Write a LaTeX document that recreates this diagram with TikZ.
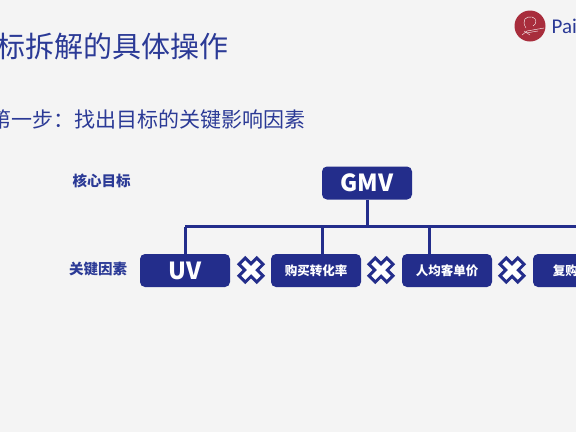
\documentclass[tikz,border=0pt]{standalone}
\usepackage{fontspec}
\setmainfont{Noto Sans CJK SC}
\newfontfamily\brandfont{Carlito}
\usepackage{xcolor}
\usepackage{tikz}
\definecolor{navyblue}{HTML}{232D8B}
\definecolor{titleblue}{HTML}{2B3A96}
\definecolor{logored}{HTML}{A82D3C}
\definecolor{pagegray}{HTML}{F4F4F4}
\tikzset{
  goalbox/.style={draw=none, fill=navyblue, rounded corners=5pt, minimum width=90pt, minimum height=33pt, inner sep=0pt, text=white, font=\fontsize{23.5}{28}\selectfont\bfseries},
  factorbox/.style={goalbox, font=\fontsize{12.5}{15}\selectfont\bfseries},
  rowlabel/.style={text=titleblue, font=\fontsize{14.5}{17}\selectfont\bfseries},
  branch/.style={draw=navyblue, line width=3pt},
  timesmark/.style={draw=navyblue, fill=white, line width=3pt, line join=miter}
}
\begin{document}
\begin{tikzpicture}[x=1pt,y=-1pt]
\clip (0,0) rectangle (576,432);
\fill[pagegray] (0,0) rectangle (576,432);
% heading
\node[anchor=east, text=titleblue, inner sep=0pt, font=\fontsize{29}{34}\selectfont] (title) at (229,46) {指标拆解的具体操作};
\node[anchor=east, text=titleblue, inner sep=0pt, font=\fontsize{21}{25}\selectfont] (subtitle) at (305.5,120) {第一步：找出目标的关键影响因素};
% logo
\node[circle, fill=logored, minimum size=31pt, inner sep=0pt] (logo) at (530,26) {};
\draw[white, line width=0.4pt] (526,28) .. controls (521,20) and (526,16) .. (532,17) .. controls (537,18) and (537,24) .. (533,26);
\draw[white, line width=0.4pt] (522,35) -- (527,31) -- (544,28) (524,31) -- (530,35) (526,33) -- (538,31);
\node[anchor=west, text=titleblue, inner sep=0pt, font=\brandfont\fontsize{21}{25}\selectfont] (brand) at (551.5,26) {Pai};
% rows
\node[rowlabel] (goallabel) at (101.5,181) {核心目标};
\node[rowlabel] (factorlabel) at (98,269) {关键因素};
\node[goalbox] (gmv) at (367,183) {GMV};
\node[goalbox] (uv) at (185,270.5) {UV};
\node[factorbox] (buy) at (316,270.5) {购买转化率};
\node[factorbox] (price) at (447,270.5) {人均客单价};
\node[factorbox] (repeat) at (578,270.5) {复购率\kern12.6pt};
% connectors
\draw[branch] (gmv.south) -- ++(0,27) coordinate (bus);
\draw[branch] (bus -| uv.north) -- (bus -| repeat.east);
\draw[branch] (bus -| uv.north) -- (uv.north);
\draw[branch] ([xshift=6pt]buy.north) -- ([xshift=6pt]buy.north |- bus);
\draw[branch] ([xshift=-18pt]price.north) -- ([xshift=-18pt]price.north |- bus);
% multiply signs
\foreach \cx in {251,381,512}{
  \draw[timesmark, shift={(\cx,270)}, rotate=45] (-4.5,-12.5) -- (4.5,-12.5) -- (4.5,-4.5) -- (12.5,-4.5) -- (12.5,4.5) -- (4.5,4.5) -- (4.5,12.5) -- (-4.5,12.5) -- (-4.5,4.5) -- (-12.5,4.5) -- (-12.5,-4.5) -- (-4.5,-4.5) -- cycle;
}
\end{tikzpicture}
\end{document}
